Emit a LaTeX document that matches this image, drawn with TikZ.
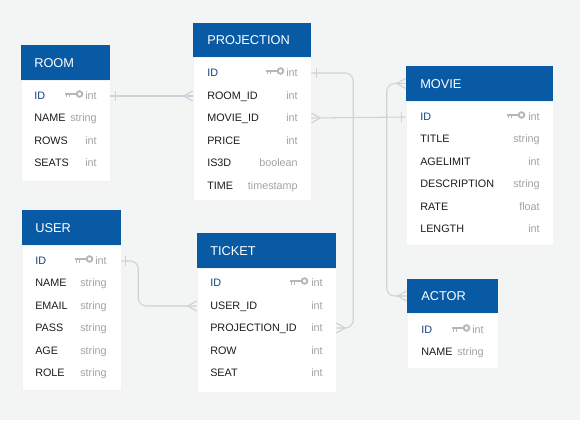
\documentclass[tikz,border=0pt]{standalone}
\usepackage{fontspec}
\setmainfont{Liberation Sans}
\usetikzlibrary{fit,calc}
\definecolor{bgc}{RGB}{243,245,245}
\definecolor{hdrc}{RGB}{9,90,165}
\definecolor{pkc}{RGB}{16,66,128}
\definecolor{fldc}{RGB}{26,28,32}
\definecolor{typc}{RGB}{160,163,168}
\definecolor{keyc}{RGB}{180,183,188}
\definecolor{linec}{RGB}{206,210,216}
\tikzset{
  hdr/.style={fill=hdrc, inner sep=0pt},
  tbl/.style={fill=white, draw=black!5, inner sep=0pt},
  ttl/.style={anchor=west, text=white, inner sep=0pt, text height=6.8pt, text depth=0pt,
    font=\fontsize{9.6}{11}\selectfont},
  fld/.style={anchor=west, text=fldc, inner sep=0pt, text height=5.7pt, text depth=0pt,
    font=\fontsize{8.1}{10}\selectfont},
  pkfld/.style={fld, text=pkc},
  typ/.style={anchor=east, text=typc, inner sep=0pt, text height=5.7pt, text depth=0pt,
    font=\fontsize{8.1}{10}\selectfont},
  conn/.style={draw=linec, line width=0.8pt},
  onebar/.pic={\draw[conn] (0,-5) -- (0,5);},
  crowfoot/.pic={\draw[conn] (0,-5) -- (-9,0) -- (0,5);},
  pkey/.pic={
    \draw[keyc, line width=1.6pt] (0,0) -- (11.5,0);
    \draw[keyc, line width=1.2pt] (1.5,0) -- (1.5,3.5) (4.5,0) -- (4.5,3.5);
    \draw[keyc, line width=1.4pt] (14.5,0) circle[radius=2.1pt];
  }
}
\begin{document}
\begin{tikzpicture}[x=0.75pt, y=-0.75pt]
  \fill[bgc] (0,0) rectangle (580,420);
  \useasboundingbox (0,0) rectangle (580,420);

  % ROOM
  \node[tbl, fit={(21,80) (110,181)}] (room) {};
  \node[hdr, fit={(21,45) (110,80)}] (room-h) {};
  \node[ttl] (room-t) at (34,62.5) {ROOM};
  \node[pkfld] (room-id) at (34,96) {ID};
  \node[fld] (room-name) at (34,118) {NAME};
  \node[fld] (room-rows) at (34,141) {ROWS};
  \node[fld] (room-seats) at (34,163) {SEATS};
  \node[typ] (room-id-ty) at (97,96) {int};
  \node[typ] (room-name-ty) at (97,118) {string};
  \node[typ] (room-rows-ty) at (97,141) {int};
  \node[typ] (room-seats-ty) at (97,163) {int};
  \pic at (65,94) {pkey};

  % PROJECTION
  \node[tbl, fit={(193,57) (311,200)}] (proj) {};
  \node[hdr, fit={(193,23) (311,57)}] (proj-h) {};
  \node[ttl] (proj-t) at (207,40) {PROJECTION};
  \node[pkfld] (proj-id) at (207,73) {ID};
  \node[fld] (proj-roomid) at (207,96) {ROOM\_ID};
  \node[fld] (proj-movieid) at (207,118) {MOVIE\_ID};
  \node[fld] (proj-price) at (207,141) {PRICE};
  \node[fld] (proj-is3d) at (207,163) {IS3D};
  \node[fld] (proj-time) at (207,186) {TIME};
  \node[typ] (proj-id-ty) at (298,73) {int};
  \node[typ] (proj-roomid-ty) at (298,96) {int};
  \node[typ] (proj-movieid-ty) at (298,118) {int};
  \node[typ] (proj-price-ty) at (298,141) {int};
  \node[typ] (proj-is3d-ty) at (298,163) {boolean};
  \node[typ] (proj-time-ty) at (298,186) {timestamp};
  \pic at (266,71) {pkey};

  % MOVIE
  \node[tbl, fit={(406,101) (553,245)}] (mv) {};
  \node[hdr, fit={(406,66) (553,101)}] (mv-h) {};
  \node[ttl] (mv-t) at (420,83.5) {MOVIE};
  \node[pkfld] (mv-id) at (420,117) {ID};
  \node[fld] (mv-title) at (420,139) {TITLE};
  \node[fld] (mv-age) at (420,162) {AGELIMIT};
  \node[fld] (mv-desc) at (420,184) {DESCRIPTION};
  \node[fld] (mv-rate) at (420,207) {RATE};
  \node[fld] (mv-length) at (420,229) {LENGTH};
  \node[typ] (mv-id-ty) at (540,117) {int};
  \node[typ] (mv-title-ty) at (540,139) {string};
  \node[typ] (mv-age-ty) at (540,162) {int};
  \node[typ] (mv-desc-ty) at (540,184) {string};
  \node[typ] (mv-rate-ty) at (540,207) {float};
  \node[typ] (mv-length-ty) at (540,229) {int};
  \pic at (507,115) {pkey};

  % USER
  \node[tbl, fit={(22,245) (121,390)}] (us) {};
  \node[hdr, fit={(22,210) (121,245)}] (us-h) {};
  \node[ttl] (us-t) at (35,227.5) {USER};
  \node[pkfld] (us-id) at (35,261) {ID};
  \node[fld] (us-name) at (35,283) {NAME};
  \node[fld] (us-email) at (35,306) {EMAIL};
  \node[fld] (us-pass) at (35,328) {PASS};
  \node[fld] (us-age) at (35,351) {AGE};
  \node[fld] (us-role) at (35,373) {ROLE};
  \node[typ] (us-id-ty) at (107,261) {int};
  \node[typ] (us-name-ty) at (107,283) {string};
  \node[typ] (us-email-ty) at (107,306) {string};
  \node[typ] (us-pass-ty) at (107,328) {string};
  \node[typ] (us-age-ty) at (107,351) {string};
  \node[typ] (us-role-ty) at (107,373) {string};
  \pic at (75,259) {pkey};

  % TICKET
  \node[tbl, fit={(197,268) (336,392)}] (tk) {};
  \node[hdr, fit={(197,233) (336,268)}] (tk-h) {};
  \node[ttl] (tk-t) at (210,250.5) {TICKET};
  \node[pkfld] (tk-id) at (210,283) {ID};
  \node[fld] (tk-userid) at (210,306) {USER\_ID};
  \node[fld] (tk-projid) at (210,328) {PROJECTION\_ID};
  \node[fld] (tk-row) at (210,351) {ROW};
  \node[fld] (tk-seat) at (210,373) {SEAT};
  \node[typ] (tk-id-ty) at (323,283) {int};
  \node[typ] (tk-userid-ty) at (323,306) {int};
  \node[typ] (tk-projid-ty) at (323,328) {int};
  \node[typ] (tk-row-ty) at (323,351) {int};
  \node[typ] (tk-seat-ty) at (323,373) {int};
  \pic at (290,281) {pkey};

  % ACTOR
  \node[tbl, fit={(407,313) (498,368)}] (ac) {};
  \node[hdr, fit={(407,279) (498,313)}] (ac-h) {};
  \node[ttl] (ac-t) at (421,296) {ACTOR};
  \node[pkfld] (ac-id) at (421,330) {ID};
  \node[fld] (ac-name) at (421,352) {NAME};
  \node[typ] (ac-id-ty) at (484,330) {int};
  \node[typ] (ac-name-ty) at (484,352) {string};
  \pic at (452,328) {pkey};

  % relations
  \draw[conn] (room-id -| room.east) -- (proj-roomid -| proj.west);
  \pic at ($(room-id -| room.east)+(5,0)$) {onebar};
  \pic at (proj-roomid -| proj.west) {crowfoot};

  \draw[conn, rounded corners=6] (proj-id -| proj.east) -- ++(42,0) |- (tk-projid -| tk.east);
  \pic at ($(proj-id -| proj.east)+(5,0)$) {onebar};
  \pic[rotate=180] at (tk-projid -| tk.east) {crowfoot};

  \draw[conn] (proj-movieid -| proj.east) -- (mv-id -| mv.west);
  \pic[rotate=180] at (proj-movieid -| proj.east) {crowfoot};
  \pic at ($(mv-id -| mv.west)+(-4,0)$) {onebar};

  \draw[conn, rounded corners=6] (mv-h.west) -- ++(-19,0) |- (ac-h.west);
  \pic at (mv-h.west) {crowfoot};
  \pic at (ac-h.west) {crowfoot};

  \draw[conn, rounded corners=6] (us-id -| us.east) -- ++(17,0) |- (tk-userid -| tk.west);
  \pic at ($(us-id -| us.east)+(4,0)$) {onebar};
  \pic at (tk-userid -| tk.west) {crowfoot};
\end{tikzpicture}
\end{document}
